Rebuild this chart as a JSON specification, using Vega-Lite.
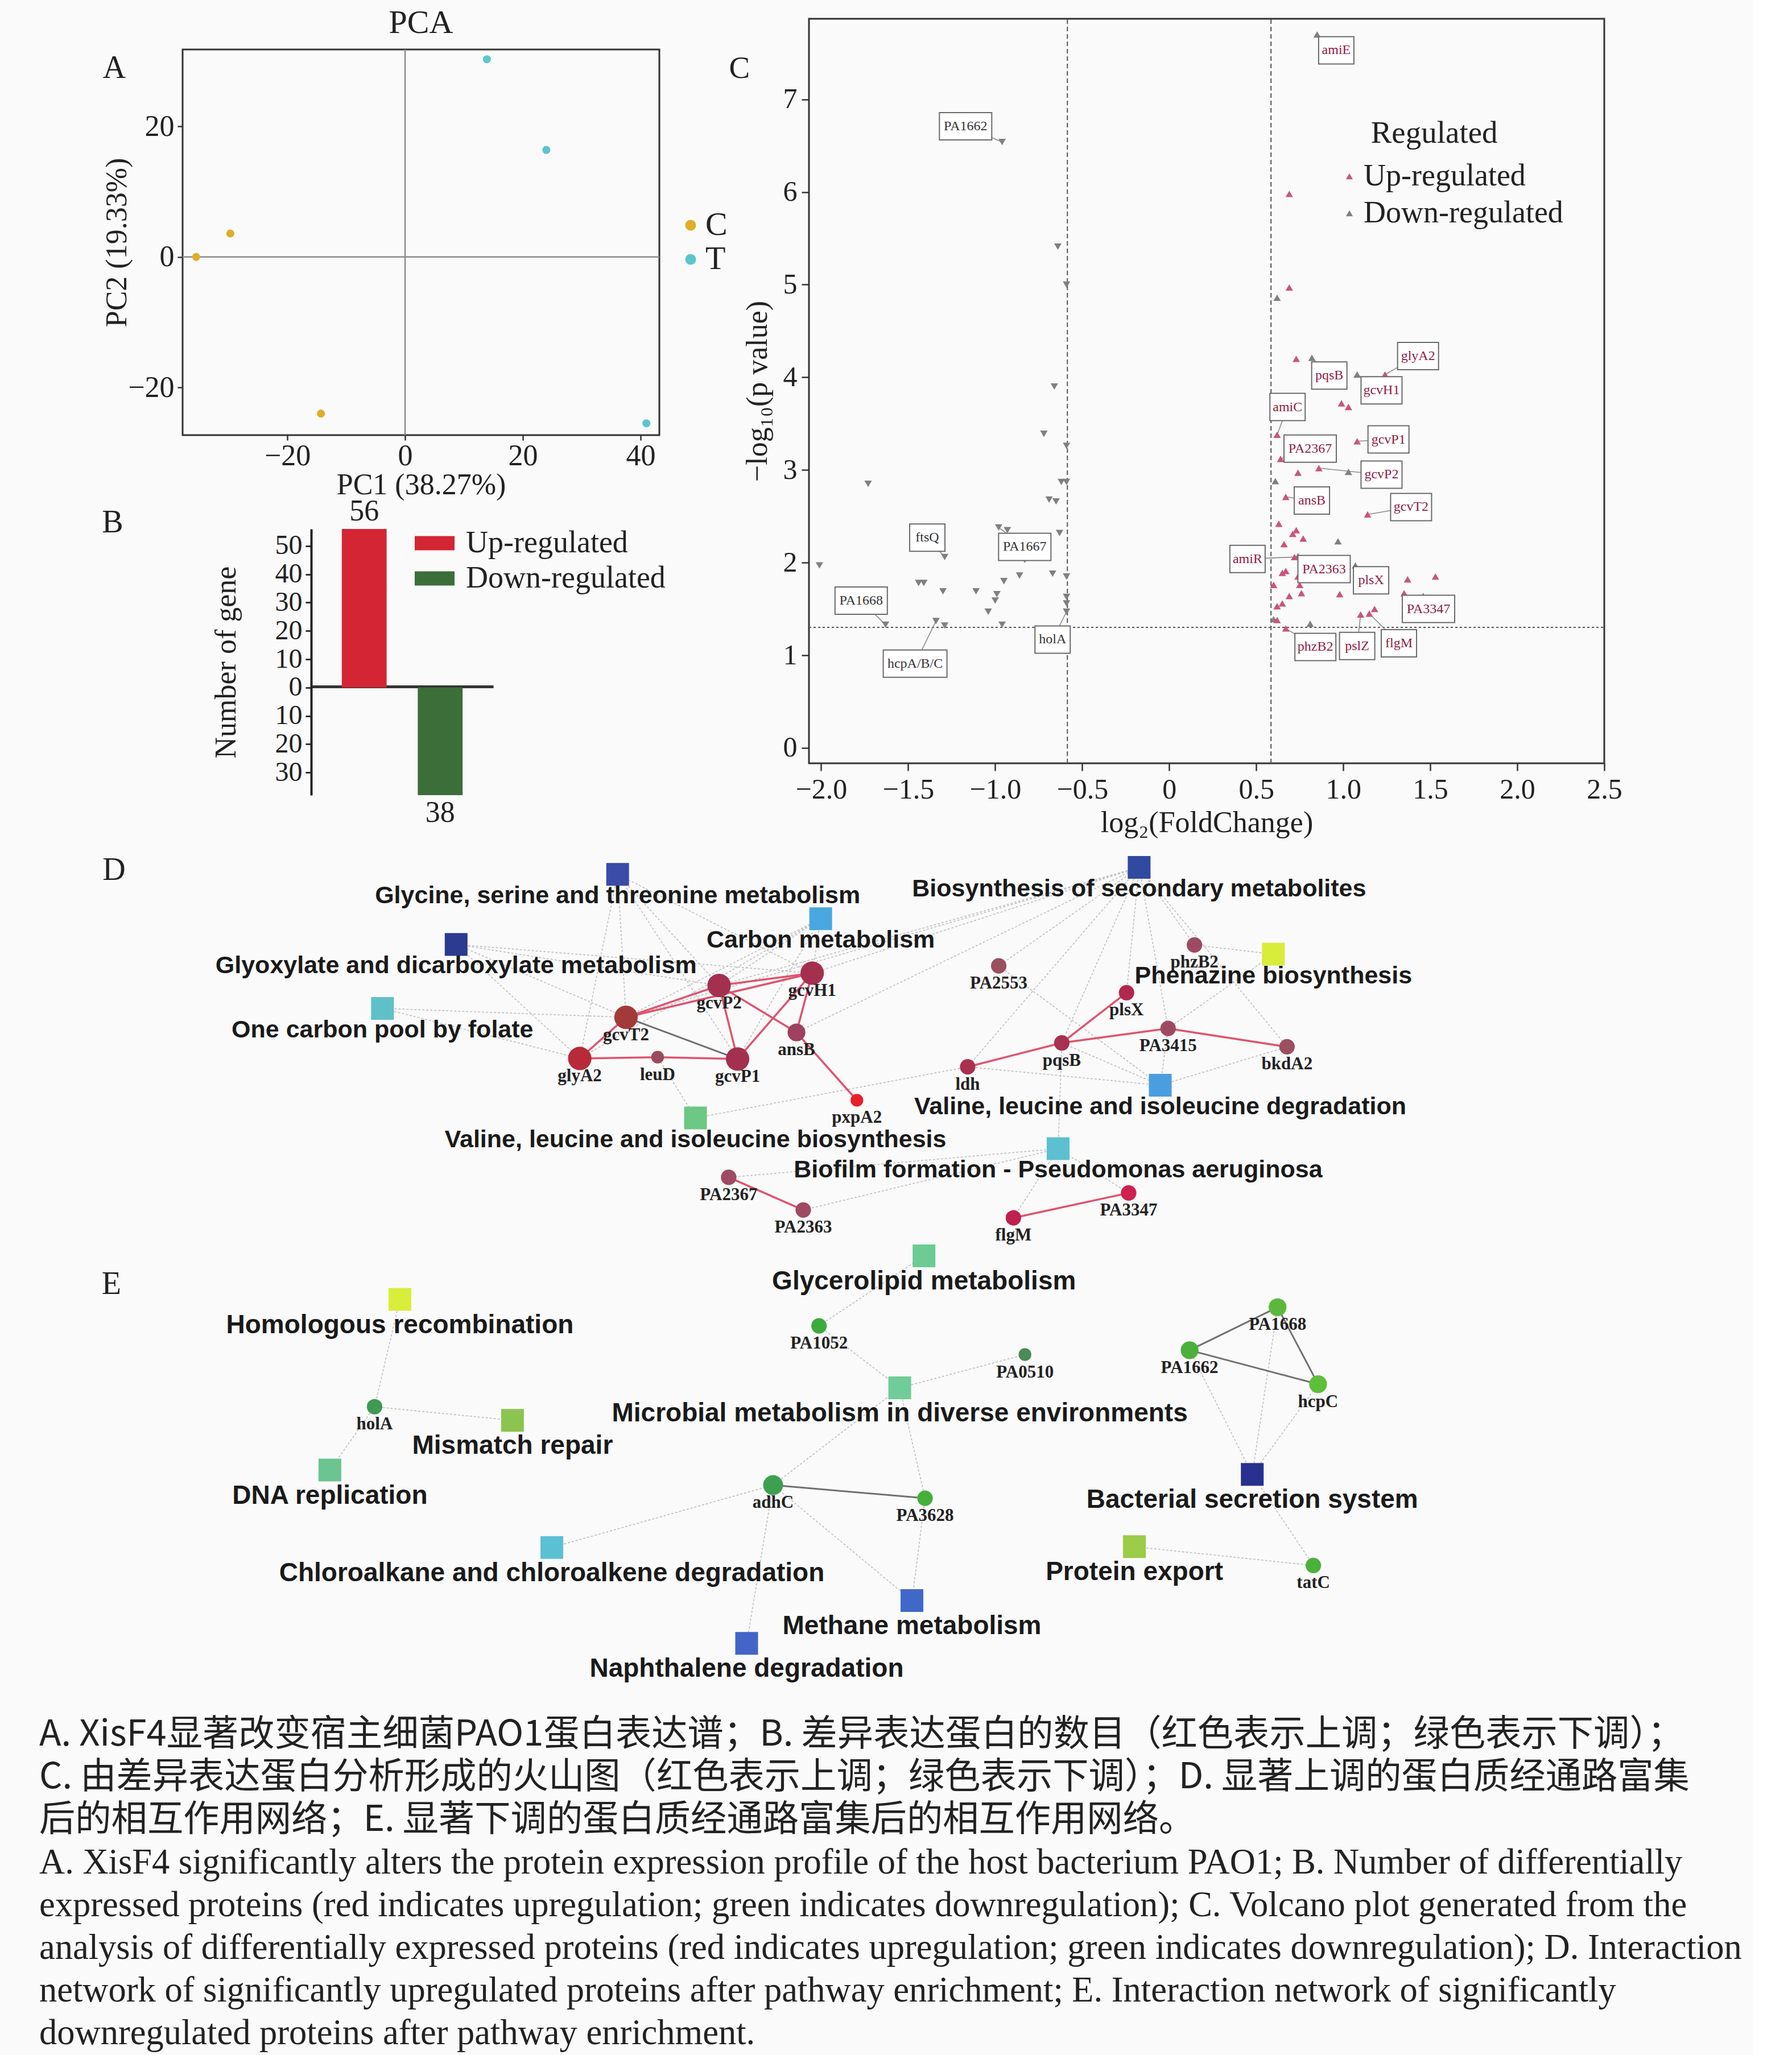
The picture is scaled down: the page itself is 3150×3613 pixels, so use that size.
{
  "$schema": "https://vega.github.io/schema/vega-lite/v6.json",
  "background": "#FAFAFA",
  "padding": {"left": 69, "top": 0, "right": 0, "bottom": 0},
  "autosize": {"type": "pad"},
  "config": {
    "view": {"stroke": null},
    "font": "Liberation Serif",
    "axis": {"labelFont": "Liberation Serif", "titleFont": "Liberation Serif", "titleFontWeight": "normal", "labelColor": "#222", "titleColor": "#222", "tickColor": "#333", "domainColor": "#222", "grid": false},
    "legend": {"labelFont": "Liberation Serif", "titleFont": "Liberation Serif", "titleFontWeight": "normal", "labelColor": "#222", "titleColor": "#222", "padding": 0, "labelLimit": 800, "titleLimit": 800},
    "title": {"font": "Liberation Serif", "fontWeight": "normal", "color": "#222"}
  },
  "bounds": "flush",
  "spacing": 0,
  "resolve": {"scale": {"color": "independent", "size": "independent", "shape": "independent"}, "legend": {"color": "independent", "size": "independent", "shape": "independent"}},
  "vconcat": [
    {
      "width": 3012, "height": 1398,
      "resolve": {"scale": {"x": "independent", "y": "independent", "color": "independent", "shape": "independent"}, "axis": {"x": "independent", "y": "independent"}, "legend": {"color": "independent", "shape": "independent"}},
      "layer": [
        {
          "layer": [
            {"data": {"values": [{}]}, "mark": {"type": "rect", "fillOpacity": 0, "stroke": "#333", "strokeWidth": 3},
             "encoding": {"x": {"datum": -37.8, "type": "quantitative", "scale": {"domain": [-37.8, 43.2], "range": [252, 1090], "nice": false, "zero": false}}, "x2": {"datum": 43.2},
               "y": {"datum": -27.3, "type": "quantitative", "scale": {"domain": [-27.3, 31.8], "range": [765, 87], "nice": false, "zero": false}}, "y2": {"datum": 31.8}}},
            {"data": {"values": [{}]}, "mark": {"type": "rule", "color": "#8A8A8A", "strokeWidth": 2.5},
             "encoding": {"x": {"datum": 0, "type": "quantitative", "scale": {"domain": [-37.8, 43.2], "range": [252, 1090], "nice": false, "zero": false}},
               "y": {"datum": -27.3, "type": "quantitative", "scale": {"domain": [-27.3, 31.8], "range": [765, 87], "nice": false, "zero": false}}, "y2": {"datum": 31.8}}},
            {"data": {"values": [{}]}, "mark": {"type": "rule", "color": "#8A8A8A", "strokeWidth": 2.5},
             "encoding": {"y": {"datum": 0, "type": "quantitative", "scale": {"domain": [-27.3, 31.8], "range": [765, 87], "nice": false, "zero": false}},
               "x": {"datum": -37.8, "type": "quantitative", "scale": {"domain": [-37.8, 43.2], "range": [252, 1090], "nice": false, "zero": false}}, "x2": {"datum": 43.2}}},
            {"data": {"name": "pca"}, "mark": {"type": "circle", "size": 200, "opacity": 1},
             "encoding": {
               "x": {"field": "pc1", "type": "quantitative", "scale": {"domain": [-37.8, 43.2], "range": [252, 1090], "nice": false, "zero": false},
                 "axis": {"orient": "bottom", "offset": -633, "title": "PC1 (38.27%)", "values": [-20, 0, 20, 40], "domain": false, "tickSize": 9, "tickWidth": 2.5, "labelFontSize": 52, "titleFontSize": 52, "labelPadding": 2, "titlePadding": 0, "labelFlush": false}},
               "y": {"field": "pc2", "type": "quantitative", "scale": {"domain": [-27.3, 31.8], "range": [765, 87], "nice": false, "zero": false},
                 "axis": {"orient": "left", "offset": -252, "title": "PC2 (19.33%)", "values": [-20, 0, 20], "domain": false, "tickSize": 9, "tickWidth": 2.5, "labelFontSize": 52, "titleFontSize": 52, "labelPadding": 6, "titlePadding": -8}},
               "color": {"field": "group", "type": "nominal", "scale": {"domain": ["C", "T"], "range": ["#E0AE2C", "#5CC6CC"]},
                 "legend": {"title": null, "orient": "none", "legendX": 1116, "legendY": 367, "labelFontSize": 58, "symbolType": "circle", "symbolSize": 360, "rowPadding": 2, "labelOffset": -3}}
             }},
            {"data": {"values": [{"t": "A", "px": -49.4, "py": 28.9}, {"t": "B", "px": -49.7, "py": -40.7}]}, "mark": {"type": "text", "fontSize": 56, "color": "#222", "baseline": "middle"},
             "encoding": {"x": {"field": "px", "type": "quantitative", "scale": {"domain": [-37.8, 43.2], "range": [252, 1090], "nice": false, "zero": false}},
               "y": {"field": "py", "type": "quantitative", "scale": {"domain": [-27.3, 31.8], "range": [765, 87], "nice": false, "zero": false}},
               "text": {"field": "t"}}},
            {"data": {"values": [{}]}, "mark": {"type": "text", "fontSize": 58, "color": "#222", "baseline": "middle"},
             "encoding": {"x": {"datum": 2.7, "type": "quantitative", "scale": {"domain": [-37.8, 43.2], "range": [252, 1090], "nice": false, "zero": false}},
               "y": {"datum": 35.8, "type": "quantitative", "scale": {"domain": [-27.3, 31.8], "range": [765, 87], "nice": false, "zero": false}},
               "text": {"value": "PCA"}}}
          ]
        },
        {
          "data": {"name": "bars"},
          "layer": [
            {"mark": {"type": "bar"},
             "encoding": {
               "x": {"field": "type", "type": "nominal", "scale": {"domain": ["Up-regulated", "Down-regulated"], "range": [478, 798], "paddingInner": 0.41, "paddingOuter": 0.403},
                 "axis": {"orient": "bottom", "offset": -191, "domain": true, "domainWidth": 5, "domainColor": "#333", "ticks": false, "labels": false, "title": null}},
               "y": {"field": "v", "type": "quantitative", "scale": {"domain": [-38, 56], "range": [1398, 930], "nice": false, "zero": false},
                 "axis": {"orient": "left", "offset": -478, "title": "Number of gene", "values": [-30, -20, -10, 0, 10, 20, 30, 40, 50], "labelExpr": "abs(datum.value)", "domain": true, "domainWidth": 4, "tickSize": 10, "tickWidth": 3, "labelFontSize": 48, "titleFontSize": 52, "labelPadding": 6, "titlePadding": 59}},
               "color": {"field": "type", "type": "nominal", "scale": {"domain": ["Up-regulated", "Down-regulated"], "range": ["#D42534", "#3B6E38"]},
                 "legend": {"title": null, "orient": "none", "legendX": 660, "legendY": 920, "labelFontSize": 54, "symbolType": "M-1,-0.36L1,-0.36L1,0.36L-1,0.36Z", "symbolSize": 4900, "symbolStrokeWidth": 0, "rowPadding": 0, "labelOffset": 20}}
             }},
            {"transform": [{"filter": "datum.v > 0"}], "mark": {"type": "text", "baseline": "bottom", "dy": -4, "fontSize": 52, "color": "#222"},
             "encoding": {
               "x": {"field": "type", "type": "nominal", "scale": {"domain": ["Up-regulated", "Down-regulated"], "range": [478, 798], "paddingInner": 0.41, "paddingOuter": 0.403}},
               "y": {"field": "v", "type": "quantitative", "scale": {"domain": [-38, 56], "range": [1398, 930], "nice": false, "zero": false}},
               "text": {"field": "count"}}},
            {"transform": [{"filter": "datum.v < 0"}], "mark": {"type": "text", "baseline": "top", "dy": 6, "fontSize": 52, "color": "#222"},
             "encoding": {
               "x": {"field": "type", "type": "nominal", "scale": {"domain": ["Up-regulated", "Down-regulated"], "range": [478, 798], "paddingInner": 0.41, "paddingOuter": 0.403}},
               "y": {"field": "v", "type": "quantitative", "scale": {"domain": [-38, 56], "range": [1398, 930], "nice": false, "zero": false}},
               "text": {"field": "count"}}}
          ]
        },
        {
          "layer": [
            {"data": {"values": [{}]}, "mark": {"type": "rect", "fillOpacity": 0, "stroke": "#333", "strokeWidth": 3},
             "encoding": {"x": {"datum": -2.07, "type": "quantitative", "scale": {"domain": [-2.07, 2.5], "range": [1353, 2751], "nice": false, "zero": false}}, "x2": {"datum": 2.5},
               "y": {"datum": -0.166, "type": "quantitative", "scale": {"domain": [-0.166, 7.87], "range": [1342, 33], "nice": false, "zero": false}}, "y2": {"datum": 7.87}}},
            {"data": {"values": [{"v": -0.585}, {"v": 0.585}]}, "mark": {"type": "rule", "strokeDash": [8, 5], "color": "#555", "strokeWidth": 2},
             "encoding": {"x": {"field": "v", "type": "quantitative", "scale": {"domain": [-2.07, 2.5], "range": [1353, 2751], "nice": false, "zero": false}},
               "y": {"datum": -0.166, "type": "quantitative", "scale": {"domain": [-0.166, 7.87], "range": [1342, 33], "nice": false, "zero": false}}, "y2": {"datum": 7.87}}},
            {"data": {"values": [{}]}, "mark": {"type": "rule", "strokeDash": [4, 4], "color": "#555", "strokeWidth": 2},
             "encoding": {"y": {"datum": 1.301, "type": "quantitative", "scale": {"domain": [-0.166, 7.87], "range": [1342, 33], "nice": false, "zero": false}},
               "x": {"datum": -2.07, "type": "quantitative", "scale": {"domain": [-2.07, 2.5], "range": [1353, 2751], "nice": false, "zero": false}}, "x2": {"datum": 2.5}}},
            {"data": {"name": "vlab"}, "mark": {"type": "rule", "color": "#8C8C8C", "strokeWidth": 1.6},
             "encoding": {
               "x": {"field": "x", "type": "quantitative", "scale": {"domain": [-2.07, 2.5], "range": [1353, 2751], "nice": false, "zero": false}},
               "y": {"field": "y", "type": "quantitative", "scale": {"domain": [-0.166, 7.87], "range": [1342, 33], "nice": false, "zero": false}},
               "x2": {"field": "px"}, "y2": {"field": "py"}
             }},
            {"data": {"name": "volcano"}, "mark": {"type": "point", "filled": true, "size": 170, "opacity": 1},
             "encoding": {
               "x": {"field": "lfc", "type": "quantitative", "scale": {"domain": [-2.07, 2.5], "range": [1353, 2751], "nice": false, "zero": false},
                 "axis": {"orient": "bottom", "offset": -56, "title": "log₂(FoldChange)", "values": [-2, -1.5, -1, -0.5, 0, 0.5, 1, 1.5, 2, 2.5], "labelExpr": "datum.value == 0 ? '0' : format(datum.value, '.1f')", "domain": false, "tickSize": 13, "tickWidth": 2.5, "labelFontSize": 50, "titleFontSize": 52, "labelPadding": 8, "titlePadding": 8, "labelFlush": false}},
               "y": {"field": "p", "type": "quantitative", "scale": {"domain": [-0.166, 7.87], "range": [1342, 33], "nice": false, "zero": false},
                 "axis": {"orient": "left", "offset": -1353, "title": "−log₁₀(p value)", "values": [0, 1, 2, 3, 4, 5, 6, 7], "format": "d", "domain": false, "tickSize": 13, "tickWidth": 2.5, "labelFontSize": 50, "titleFontSize": 52, "labelPadding": 8, "titlePadding": 18}},
               "shape": {"condition": {"test": "datum.lfc > 0", "value": "triangle-up"}, "value": "triangle-down"},
               "color": {"field": "reg", "type": "nominal", "scale": {"domain": ["Up-regulated", "Down-regulated"], "range": ["#C9557D", "#808080"]},
                 "legend": {"title": null, "orient": "none", "legendX": 2276, "legendY": 283, "labelFontSize": 54, "symbolType": "triangle-up", "symbolSize": 150, "rowPadding": 11, "labelOffset": -2}}
             }},
            {"data": {"name": "vlab"}, "mark": {"type": "point", "filled": false, "fill": "#FFFFFF", "fillOpacity": 1, "stroke": "#6A6A6A", "strokeWidth": 2, "size": 10000, "opacity": 1},
             "encoding": {
               "x": {"field": "x", "type": "quantitative", "scale": {"domain": [-2.07, 2.5], "range": [1353, 2751], "nice": false, "zero": false}},
               "y": {"field": "y", "type": "quantitative", "scale": {"domain": [-0.166, 7.87], "range": [1342, 33], "nice": false, "zero": false}},
               "shape": {"field": "n", "type": "nominal", "scale": {"domain": ["4", "5", "6", "8"], "range": ["M-0.62,-0.48L0.62,-0.48L0.62,0.48L-0.62,0.48Z", "M-0.72,-0.48L0.72,-0.48L0.72,0.48L-0.72,0.48Z", "M-0.92,-0.48L0.92,-0.48L0.92,0.48L-0.92,0.48Z", "M-1.12,-0.48L1.12,-0.48L1.12,0.48L-1.12,0.48Z"]}, "legend": null}
             }},
            {"data": {"name": "vlab"}, "mark": {"type": "text", "fontSize": 24, "baseline": "middle"},
             "encoding": {
               "x": {"field": "x", "type": "quantitative", "scale": {"domain": [-2.07, 2.5], "range": [1353, 2751], "nice": false, "zero": false}},
               "y": {"field": "y", "type": "quantitative", "scale": {"domain": [-0.166, 7.87], "range": [1342, 33], "nice": false, "zero": false}},
               "text": {"field": "g"},
               "color": {"condition": {"test": "datum.x > 0", "value": "#8E1C44"}, "value": "#333333"}
             }},
            {"data": {"values": [{"t": "C", "px": -2.469, "py": 7.336, "fs": "l"}, {"t": "Regulated", "px": 1.523, "py": 6.636, "fs": "t"}]}, "mark": {"type": "text", "fontSize": 55, "color": "#222", "baseline": "middle"},
             "encoding": {"x": {"field": "px", "type": "quantitative", "scale": {"domain": [-2.07, 2.5], "range": [1353, 2751], "nice": false, "zero": false}},
               "y": {"field": "py", "type": "quantitative", "scale": {"domain": [-0.166, 7.87], "range": [1342, 33], "nice": false, "zero": false}},
               "text": {"field": "t"}}}
          ]
        }
      ]
    },
    {
      "width": 3012, "height": 1614,
      "layer": [
        {"data": {"name": "edges"},
         "transform": [{"filter": "datum.k == 'p'"},
           {"lookup": "s", "from": {"data": {"name": "nodes"}, "key": "id", "fields": ["x", "y"]}, "as": ["sx", "sy"]},
           {"lookup": "t", "from": {"data": {"name": "nodes"}, "key": "id", "fields": ["x", "y"]}, "as": ["tx", "ty"]}],
         "mark": {"type": "rule", "color": "#C4C4C4", "strokeWidth": 1.8, "strokeDash": [4, 3]},
         "encoding": {
           "x": {"field": "sx", "type": "quantitative", "scale": {"domain": [30, 1337.07], "nice": false, "zero": false}, "axis": null},
           "y": {"field": "sy", "type": "quantitative", "scale": {"domain": [606.7, 1307.1], "nice": false, "zero": false, "reverse": true}, "axis": null},
           "x2": {"field": "tx"}, "y2": {"field": "ty"}
         }},
        {"data": {"name": "edges"},
         "transform": [{"filter": "datum.k == 'd'"},
           {"lookup": "s", "from": {"data": {"name": "nodes"}, "key": "id", "fields": ["x", "y"]}, "as": ["sx", "sy"]},
           {"lookup": "t", "from": {"data": {"name": "nodes"}, "key": "id", "fields": ["x", "y"]}, "as": ["tx", "ty"]}],
         "mark": {"type": "rule", "color": "#707070", "strokeWidth": 3},
         "encoding": {
           "x": {"field": "sx", "type": "quantitative", "scale": {"domain": [30, 1337.07], "nice": false, "zero": false}, "axis": null},
           "y": {"field": "sy", "type": "quantitative", "scale": {"domain": [606.7, 1307.1], "nice": false, "zero": false, "reverse": true}, "axis": null},
           "x2": {"field": "tx"}, "y2": {"field": "ty"}
         }},
        {"data": {"name": "edges"},
         "transform": [{"filter": "datum.k == 'r'"},
           {"lookup": "s", "from": {"data": {"name": "nodes"}, "key": "id", "fields": ["x", "y"]}, "as": ["sx", "sy"]},
           {"lookup": "t", "from": {"data": {"name": "nodes"}, "key": "id", "fields": ["x", "y"]}, "as": ["tx", "ty"]}],
         "mark": {"type": "rule", "color": "#E0526F", "strokeWidth": 3.5},
         "encoding": {
           "x": {"field": "sx", "type": "quantitative", "scale": {"domain": [30, 1337.07], "nice": false, "zero": false}, "axis": null},
           "y": {"field": "sy", "type": "quantitative", "scale": {"domain": [606.7, 1307.1], "nice": false, "zero": false, "reverse": true}, "axis": null},
           "x2": {"field": "tx"}, "y2": {"field": "ty"}
         }},
        {"data": {"name": "nodes"},
         "transform": [{"filter": "datum.kind == 'path'"}],
         "mark": {"type": "point", "shape": "square", "filled": true, "size": 1600, "opacity": 1},
         "encoding": {
           "x": {"field": "x", "type": "quantitative", "scale": {"domain": [30, 1337.07], "nice": false, "zero": false}, "axis": null},
           "y": {"field": "y", "type": "quantitative", "scale": {"domain": [606.7, 1307.1], "nice": false, "zero": false, "reverse": true}, "axis": null},
           "color": {"field": "id", "type": "nominal", "legend": null,
             "scale": {"domain": ["gly","bio","car","glx","phz","one","vld","vlb","bfm","hom","mis","dna","gll","mic","chl","nap","met","bss","pex","gcvP2","gcvH1","gcvT2","ansB","glyA2","leuD","gcvP1","pxpA2","PA2367","PA2363","PA2553","phzB2","plsX","PA3415","pqsB","bkdA2","ldh","PA3347","flgM","holA","PA1052","PA0510","adhC","PA3628","PA1668","PA1662","hcpC","tatC"],
               "range": ["#3B4BA8","#304AA0","#4AA8E0","#2C3A90","#D8EC3A","#60C0C8","#4A9EE0","#6CC884","#5CC0D0","#D8EE3A","#8CC450","#6CC490","#6CCC94","#70CC98","#5CC0D4","#4464C8","#4068C8","#283090","#9CCC48","#A3304F","#A3304F","#A33A3A","#9E4060","#B82A3A","#9A4A5E","#A3304F","#E8202A","#9E4A62","#9E4A62","#9A5060","#9E4A62","#B02850","#9E4A62","#A83050","#9A5060","#AA3050","#D02050","#C02050","#3E9A55","#3DAA3D","#4A8A55","#3DA050","#44B03A","#5CB83C","#4CB03C","#5EBF3A","#4CB03C"]}}
         }},
        {"data": {"name": "nodes"},
         "transform": [{"filter": "datum.kind == 'gene'"}],
         "mark": {"type": "circle", "opacity": 1},
         "encoding": {
           "x": {"field": "x", "type": "quantitative", "scale": {"domain": [30, 1337.07], "nice": false, "zero": false}, "axis": null},
           "y": {"field": "y", "type": "quantitative", "scale": {"domain": [606.7, 1307.1], "nice": false, "zero": false, "reverse": true}, "axis": null},
           "size": {"field": "deg", "type": "quantitative", "scale": {"domain": [1, 6], "range": [500, 1700]}, "legend": null},
           "color": {"field": "id", "type": "nominal", "legend": null,
             "scale": {"domain": ["gly","bio","car","glx","phz","one","vld","vlb","bfm","hom","mis","dna","gll","mic","chl","nap","met","bss","pex","gcvP2","gcvH1","gcvT2","ansB","glyA2","leuD","gcvP1","pxpA2","PA2367","PA2363","PA2553","phzB2","plsX","PA3415","pqsB","bkdA2","ldh","PA3347","flgM","holA","PA1052","PA0510","adhC","PA3628","PA1668","PA1662","hcpC","tatC"],
               "range": ["#3B4BA8","#304AA0","#4AA8E0","#2C3A90","#D8EC3A","#60C0C8","#4A9EE0","#6CC884","#5CC0D0","#D8EE3A","#8CC450","#6CC490","#6CCC94","#70CC98","#5CC0D4","#4464C8","#4068C8","#283090","#9CCC48","#A3304F","#A3304F","#A33A3A","#9E4060","#B82A3A","#9A4A5E","#A3304F","#E8202A","#9E4A62","#9E4A62","#9A5060","#9E4A62","#B02850","#9E4A62","#A83050","#9A5060","#AA3050","#D02050","#C02050","#3E9A55","#3DAA3D","#4A8A55","#3DA050","#44B03A","#5CB83C","#4CB03C","#5EBF3A","#4CB03C"]}}
         }},
        {"data": {"name": "nodes"},
         "transform": [{"filter": "datum.kind == 'gene'"}],
         "mark": {"type": "text", "font": "Liberation Serif", "fontWeight": "bold", "fontSize": 31, "dy": 31, "baseline": "middle", "color": "#222"},
         "encoding": {
           "x": {"field": "x", "type": "quantitative", "scale": {"domain": [30, 1337.07], "nice": false, "zero": false}, "axis": null},
           "y": {"field": "y", "type": "quantitative", "scale": {"domain": [606.7, 1307.1], "nice": false, "zero": false, "reverse": true}, "axis": null},
           "text": {"field": "label"}
         }},
        {"data": {"name": "nodes"},
         "transform": [{"filter": "datum.kind == 'path' && datum.net == 'D'"}],
         "mark": {"type": "text", "font": "Liberation Sans", "fontWeight": "bold", "fontSize": 43, "dy": 38, "baseline": "middle", "color": "#1A1A1A"},
         "encoding": {
           "x": {"field": "x", "type": "quantitative", "scale": {"domain": [30, 1337.07], "nice": false, "zero": false}, "axis": null},
           "y": {"field": "y", "type": "quantitative", "scale": {"domain": [606.7, 1307.1], "nice": false, "zero": false, "reverse": true}, "axis": null},
           "text": {"field": "label"}
         }},
        {"data": {"name": "nodes"},
         "transform": [{"filter": "datum.kind == 'path' && datum.net == 'E'"}],
         "mark": {"type": "text", "font": "Liberation Sans", "fontWeight": "bold", "fontSize": 46, "dy": 45, "baseline": "middle", "color": "#1A1A1A"},
         "encoding": {
           "x": {"field": "x", "type": "quantitative", "scale": {"domain": [30, 1337.07], "nice": false, "zero": false}, "axis": null},
           "y": {"field": "y", "type": "quantitative", "scale": {"domain": [606.7, 1307.1], "nice": false, "zero": false, "reverse": true}, "axis": null},
           "text": {"field": "label"}
         }},
        {"data": {"values": [{"letter": "D", "x": 87, "y": 664}, {"letter": "E", "x": 85, "y": 980}]},
         "mark": {"type": "text", "fontSize": 56, "color": "#222", "baseline": "middle"},
         "encoding": {
           "x": {"field": "x", "type": "quantitative", "scale": {"domain": [30, 1337.07], "nice": false, "zero": false}, "axis": null},
           "y": {"field": "y", "type": "quantitative", "scale": {"domain": [606.7, 1307.1], "nice": false, "zero": false, "reverse": true}, "axis": null},
           "text": {"field": "letter"}
         }}
      ]
    },
    {
      "width": 3012, "height": 601,
      "data": {"name": "caption"},
      "layer": [
        {"transform": [{"filter": "datum.lang == 'zh'"}],
         "mark": {"type": "text", "align": "left", "baseline": "middle", "font": "Noto Sans CJK SC", "fontSize": 63.3, "color": "#222"},
         "encoding": {
           "x": {"datum": 0, "type": "quantitative", "scale": {"domain": [0, 1]}, "axis": null},
           "y": {"field": "line", "type": "ordinal", "axis": null, "scale": {"type": "point", "padding": 0.5}},
           "text": {"field": "t"}
         }},
        {"transform": [{"filter": "datum.lang == 'en'"}],
         "mark": {"type": "text", "align": "left", "baseline": "middle", "font": "Liberation Serif", "fontSize": 62.5, "color": "#222"},
         "encoding": {
           "x": {"datum": 0, "type": "quantitative", "scale": {"domain": [0, 1]}, "axis": null},
           "y": {"field": "line", "type": "ordinal", "axis": null, "scale": {"type": "point", "padding": 0.5}},
           "text": {"field": "t"}
         }}
      ]
    }
  ],
  "datasets": {
    "pca": [
      {"pc1": -35.5, "pc2": 0.0, "group": "C"},
      {"pc1": -29.7, "pc2": 3.6, "group": "C"},
      {"pc1": -14.3, "pc2": -24.0, "group": "C"},
      {"pc1": 13.9, "pc2": 30.3, "group": "T"},
      {"pc1": 24.0, "pc2": 16.4, "group": "T"},
      {"pc1": 41.0, "pc2": -25.5, "group": "T"}
    ],
    "bars": [
      {"type": "Up-regulated", "v": 56, "count": 56},
      {"type": "Down-regulated", "v": -38, "count": 38}
    ],
    "volcano": [
      {"lfc": -0.96, "p": 6.54, "reg": "Down-regulated"},
      {"lfc": -0.64, "p": 5.41, "reg": "Down-regulated"},
      {"lfc": -0.59, "p": 5.00, "reg": "Down-regulated"},
      {"lfc": -0.66, "p": 3.90, "reg": "Down-regulated"},
      {"lfc": -0.72, "p": 3.39, "reg": "Down-regulated"},
      {"lfc": -0.59, "p": 3.26, "reg": "Down-regulated"},
      {"lfc": -0.62, "p": 2.87, "reg": "Down-regulated"},
      {"lfc": -0.59, "p": 2.87, "reg": "Down-regulated"},
      {"lfc": -1.73, "p": 2.85, "reg": "Down-regulated"},
      {"lfc": -0.69, "p": 2.68, "reg": "Down-regulated"},
      {"lfc": -0.65, "p": 2.66, "reg": "Down-regulated"},
      {"lfc": -0.63, "p": 2.32, "reg": "Down-regulated"},
      {"lfc": -0.98, "p": 2.38, "reg": "Down-regulated"},
      {"lfc": -0.93, "p": 2.35, "reg": "Down-regulated"},
      {"lfc": -1.29, "p": 2.06, "reg": "Down-regulated"},
      {"lfc": -0.83, "p": 2.03, "reg": "Down-regulated"},
      {"lfc": -2.01, "p": 1.97, "reg": "Down-regulated"},
      {"lfc": -0.59, "p": 1.85, "reg": "Down-regulated"},
      {"lfc": -0.67, "p": 1.88, "reg": "Down-regulated"},
      {"lfc": -0.86, "p": 1.86, "reg": "Down-regulated"},
      {"lfc": -0.95, "p": 1.80, "reg": "Down-regulated"},
      {"lfc": -1.44, "p": 1.78, "reg": "Down-regulated"},
      {"lfc": -1.41, "p": 1.78, "reg": "Down-regulated"},
      {"lfc": -1.30, "p": 1.69, "reg": "Down-regulated"},
      {"lfc": -1.11, "p": 1.69, "reg": "Down-regulated"},
      {"lfc": -0.99, "p": 1.66, "reg": "Down-regulated"},
      {"lfc": -1.00, "p": 1.59, "reg": "Down-regulated"},
      {"lfc": -0.59, "p": 1.63, "reg": "Down-regulated"},
      {"lfc": -0.59, "p": 1.56, "reg": "Down-regulated"},
      {"lfc": -1.04, "p": 1.47, "reg": "Down-regulated"},
      {"lfc": -0.59, "p": 1.47, "reg": "Down-regulated"},
      {"lfc": -1.63, "p": 1.33, "reg": "Down-regulated"},
      {"lfc": -1.34, "p": 1.37, "reg": "Down-regulated"},
      {"lfc": -1.29, "p": 1.32, "reg": "Down-regulated"},
      {"lfc": -0.96, "p": 1.33, "reg": "Down-regulated"},
      {"lfc": 0.85, "p": 7.70, "reg": "Down-regulated"},
      {"lfc": 0.62, "p": 4.86, "reg": "Down-regulated"},
      {"lfc": 0.82, "p": 4.21, "reg": "Down-regulated"},
      {"lfc": 1.08, "p": 4.03, "reg": "Down-regulated"},
      {"lfc": 1.03, "p": 2.98, "reg": "Down-regulated"},
      {"lfc": 0.61, "p": 2.88, "reg": "Down-regulated"},
      {"lfc": 0.97, "p": 2.23, "reg": "Down-regulated"},
      {"lfc": 0.74, "p": 2.07, "reg": "Down-regulated"},
      {"lfc": 1.07, "p": 1.97, "reg": "Down-regulated"},
      {"lfc": 1.46, "p": 1.64, "reg": "Down-regulated"},
      {"lfc": 0.60, "p": 1.39, "reg": "Down-regulated"},
      {"lfc": 0.81, "p": 1.34, "reg": "Down-regulated"},
      {"lfc": 0.69, "p": 5.98, "reg": "Up-regulated"},
      {"lfc": 0.69, "p": 4.97, "reg": "Up-regulated"},
      {"lfc": 0.73, "p": 4.20, "reg": "Up-regulated"},
      {"lfc": 1.24, "p": 4.03, "reg": "Up-regulated"},
      {"lfc": 0.99, "p": 3.72, "reg": "Up-regulated"},
      {"lfc": 1.03, "p": 3.68, "reg": "Up-regulated"},
      {"lfc": 0.62, "p": 3.38, "reg": "Up-regulated"},
      {"lfc": 0.64, "p": 3.12, "reg": "Up-regulated"},
      {"lfc": 1.08, "p": 3.31, "reg": "Up-regulated"},
      {"lfc": 0.86, "p": 3.02, "reg": "Up-regulated"},
      {"lfc": 0.74, "p": 2.97, "reg": "Up-regulated"},
      {"lfc": 0.67, "p": 2.71, "reg": "Up-regulated"},
      {"lfc": 1.14, "p": 2.52, "reg": "Up-regulated"},
      {"lfc": 0.63, "p": 2.42, "reg": "Up-regulated"},
      {"lfc": 0.73, "p": 2.35, "reg": "Up-regulated"},
      {"lfc": 0.71, "p": 2.31, "reg": "Up-regulated"},
      {"lfc": 0.66, "p": 2.20, "reg": "Up-regulated"},
      {"lfc": 0.77, "p": 2.26, "reg": "Up-regulated"},
      {"lfc": 0.72, "p": 2.06, "reg": "Up-regulated"},
      {"lfc": 0.67, "p": 1.91, "reg": "Up-regulated"},
      {"lfc": 0.65, "p": 1.89, "reg": "Up-regulated"},
      {"lfc": 1.37, "p": 1.82, "reg": "Up-regulated"},
      {"lfc": 1.53, "p": 1.85, "reg": "Up-regulated"},
      {"lfc": 0.60, "p": 1.76, "reg": "Up-regulated"},
      {"lfc": 0.74, "p": 1.85, "reg": "Up-regulated"},
      {"lfc": 0.75, "p": 1.76, "reg": "Up-regulated"},
      {"lfc": 0.76, "p": 1.67, "reg": "Up-regulated"},
      {"lfc": 0.98, "p": 1.66, "reg": "Up-regulated"},
      {"lfc": 0.69, "p": 1.64, "reg": "Up-regulated"},
      {"lfc": 1.35, "p": 1.67, "reg": "Up-regulated"},
      {"lfc": 0.65, "p": 1.56, "reg": "Up-regulated"},
      {"lfc": 0.62, "p": 1.53, "reg": "Up-regulated"},
      {"lfc": 1.10, "p": 1.44, "reg": "Up-regulated"},
      {"lfc": 1.18, "p": 1.50, "reg": "Up-regulated"},
      {"lfc": 1.15, "p": 1.45, "reg": "Up-regulated"},
      {"lfc": 0.62, "p": 1.38, "reg": "Up-regulated"},
      {"lfc": 0.67, "p": 1.29, "reg": "Up-regulated"}
    ],
    "vlab": [
      {"g": "amiE", "x": 0.96, "y": 7.53, "n": "4", "px": 0.85, "py": 7.70},
      {"g": "PA1662", "x": -1.17, "y": 6.71, "n": "6", "px": -0.96, "py": 6.54},
      {"g": "pqsB", "x": 0.92, "y": 4.02, "n": "4", "px": 0.82, "py": 4.21},
      {"g": "glyA2", "x": 1.43, "y": 4.23, "n": "5", "px": 1.24, "py": 4.03},
      {"g": "gcvH1", "x": 1.22, "y": 3.86, "n": "5", "px": 1.08, "py": 4.03},
      {"g": "amiC", "x": 0.68, "y": 3.68, "n": "4", "px": 0.62, "py": 3.38},
      {"g": "gcvP1", "x": 1.26, "y": 3.33, "n": "5", "px": 1.08, "py": 3.31},
      {"g": "PA2367", "x": 0.81, "y": 3.23, "n": "6", "px": 0.64, "py": 3.12},
      {"g": "gcvP2", "x": 1.22, "y": 2.95, "n": "5", "px": 0.86, "py": 3.02},
      {"g": "ansB", "x": 0.82, "y": 2.67, "n": "4", "px": 0.67, "py": 2.71},
      {"g": "gcvT2", "x": 1.39, "y": 2.60, "n": "5", "px": 1.14, "py": 2.52},
      {"g": "ftsQ", "x": -1.39, "y": 2.27, "n": "4", "px": -1.29, "py": 2.06},
      {"g": "PA1667", "x": -0.83, "y": 2.17, "n": "6", "px": -0.98, "py": 2.38},
      {"g": "amiR", "x": 0.45, "y": 2.04, "n": "4", "px": 0.72, "py": 2.06},
      {"g": "PA2363", "x": 0.89, "y": 1.93, "n": "6", "px": 0.74, "py": 1.85},
      {"g": "plsX", "x": 1.16, "y": 1.81, "n": "4", "px": 1.07, "py": 1.97},
      {"g": "PA3347", "x": 1.49, "y": 1.50, "n": "6", "px": 1.35, "py": 1.67},
      {"g": "PA1668", "x": -1.77, "y": 1.59, "n": "6", "px": -1.63, "py": 1.33},
      {"g": "holA", "x": -0.67, "y": 1.17, "n": "4", "px": -0.59, "py": 1.47},
      {"g": "phzB2", "x": 0.84, "y": 1.09, "n": "5", "px": 0.67, "py": 1.29},
      {"g": "pslZ", "x": 1.08, "y": 1.10, "n": "4", "px": 1.10, "py": 1.44},
      {"g": "flgM", "x": 1.32, "y": 1.13, "n": "4", "px": 1.15, "py": 1.45},
      {"g": "hcpA/B/C", "x": -1.46, "y": 0.91, "n": "8", "px": -1.34, "py": 1.37}
    ],
    "nodes": [
      {"id": "gly", "label": "Glycine, serine and threonine metabolism", "kind": "path", "net": "D", "x": 471.2, "y": 667.1},
      {"id": "bio", "label": "Biosynthesis of secondary metabolites", "kind": "path", "net": "D", "x": 869.0, "y": 661.8},
      {"id": "car", "label": "Carbon metabolism", "kind": "path", "net": "D", "x": 626.1, "y": 701.0},
      {"id": "glx", "label": "Glyoxylate and dicarboxylate metabolism", "kind": "path", "net": "D", "x": 348.0, "y": 720.6},
      {"id": "phz", "label": "Phenazine biosynthesis", "kind": "path", "net": "D", "x": 971.4, "y": 728.0},
      {"id": "one", "label": "One carbon pool by folate", "kind": "path", "net": "D", "x": 291.8, "y": 769.4},
      {"id": "vld", "label": "Valine, leucine and isoleucine degradation", "kind": "path", "net": "D", "x": 885.1, "y": 828.0},
      {"id": "vlb", "label": "Valine, leucine and isoleucine biosynthesis", "kind": "path", "net": "D", "x": 530.6, "y": 853.0},
      {"id": "bfm", "label": "Biofilm formation - Pseudomonas aeruginosa", "kind": "path", "net": "D", "x": 807.2, "y": 876.4},
      {"id": "hom", "label": "Homologous recombination", "kind": "path", "net": "E", "x": 305.1, "y": 991.4},
      {"id": "mis", "label": "Mismatch repair", "kind": "path", "net": "E", "x": 391.0, "y": 1083.7},
      {"id": "dna", "label": "DNA replication", "kind": "path", "net": "E", "x": 251.7, "y": 1121.6},
      {"id": "gll", "label": "Glycerolipid metabolism", "kind": "path", "net": "E", "x": 704.9, "y": 958.2},
      {"id": "mic", "label": "Microbial metabolism in diverse environments", "kind": "path", "net": "E", "x": 686.4, "y": 1058.9},
      {"id": "chl", "label": "Chloroalkane and chloroalkene degradation", "kind": "path", "net": "E", "x": 421.0, "y": 1180.7},
      {"id": "nap", "label": "Naphthalene degradation", "kind": "path", "net": "E", "x": 569.6, "y": 1253.8},
      {"id": "met", "label": "Methane metabolism", "kind": "path", "net": "E", "x": 695.7, "y": 1221.2},
      {"id": "bss", "label": "Bacterial secretion system", "kind": "path", "net": "E", "x": 955.3, "y": 1124.9},
      {"id": "pex", "label": "Protein export", "kind": "path", "net": "E", "x": 865.4, "y": 1180.1},
      {"id": "gcvP2", "label": "gcvP2", "kind": "gene", "net": "D", "x": 548.6, "y": 751.9, "deg": 6},
      {"id": "gcvH1", "label": "gcvH1", "kind": "gene", "net": "D", "x": 619.6, "y": 742.5, "deg": 6},
      {"id": "gcvT2", "label": "gcvT2", "kind": "gene", "net": "D", "x": 477.6, "y": 776.2, "deg": 6},
      {"id": "ansB", "label": "ansB", "kind": "gene", "net": "D", "x": 607.6, "y": 787.7, "deg": 3},
      {"id": "glyA2", "label": "glyA2", "kind": "gene", "net": "D", "x": 442.3, "y": 807.6, "deg": 6},
      {"id": "leuD", "label": "leuD", "kind": "gene", "net": "D", "x": 501.7, "y": 806.6, "deg": 1},
      {"id": "gcvP1", "label": "gcvP1", "kind": "gene", "net": "D", "x": 562.7, "y": 808.0, "deg": 6},
      {"id": "pxpA2", "label": "pxpA2", "kind": "gene", "net": "D", "x": 653.7, "y": 839.5, "deg": 1},
      {"id": "PA2367", "label": "PA2367", "kind": "gene", "net": "D", "x": 555.9, "y": 898.3, "deg": 2},
      {"id": "PA2363", "label": "PA2363", "kind": "gene", "net": "D", "x": 612.8, "y": 923.2, "deg": 2},
      {"id": "PA2553", "label": "PA2553", "kind": "gene", "net": "D", "x": 761.9, "y": 736.9, "deg": 2},
      {"id": "phzB2", "label": "phzB2", "kind": "gene", "net": "D", "x": 911.2, "y": 721.0, "deg": 2},
      {"id": "plsX", "label": "plsX", "kind": "gene", "net": "D", "x": 859.4, "y": 757.4, "deg": 2},
      {"id": "PA3415", "label": "PA3415", "kind": "gene", "net": "D", "x": 891.1, "y": 784.7, "deg": 2},
      {"id": "pqsB", "label": "pqsB", "kind": "gene", "net": "D", "x": 810.0, "y": 795.7, "deg": 2},
      {"id": "bkdA2", "label": "bkdA2", "kind": "gene", "net": "D", "x": 981.8, "y": 798.7, "deg": 2},
      {"id": "ldh", "label": "ldh", "kind": "gene", "net": "D", "x": 738.2, "y": 814.0, "deg": 2},
      {"id": "PA3347", "label": "PA3347", "kind": "gene", "net": "D", "x": 861.0, "y": 910.2, "deg": 2},
      {"id": "flgM", "label": "flgM", "kind": "gene", "net": "D", "x": 773.1, "y": 929.2, "deg": 2},
      {"id": "holA", "label": "holA", "kind": "gene", "net": "E", "x": 285.8, "y": 1073.3, "deg": 2},
      {"id": "PA1052", "label": "PA1052", "kind": "gene", "net": "E", "x": 624.8, "y": 1011.6, "deg": 2},
      {"id": "PA0510", "label": "PA0510", "kind": "gene", "net": "E", "x": 781.9, "y": 1033.5, "deg": 1},
      {"id": "adhC", "label": "adhC", "kind": "gene", "net": "E", "x": 589.8, "y": 1133.1, "deg": 4},
      {"id": "PA3628", "label": "PA3628", "kind": "gene", "net": "E", "x": 705.7, "y": 1143.1, "deg": 2},
      {"id": "PA1668", "label": "PA1668", "kind": "gene", "net": "E", "x": 974.6, "y": 997.4, "deg": 3},
      {"id": "PA1662", "label": "PA1662", "kind": "gene", "net": "E", "x": 907.5, "y": 1030.2, "deg": 3},
      {"id": "hcpC", "label": "hcpC", "kind": "gene", "net": "E", "x": 1005.5, "y": 1056.1, "deg": 3},
      {"id": "tatC", "label": "tatC", "kind": "gene", "net": "E", "x": 1001.9, "y": 1194.4, "deg": 2}
    ],
    "edges": [
      {"s": "gcvT2", "t": "gcvP2", "k": "r"},
      {"s": "gcvT2", "t": "gcvH1", "k": "r"},
      {"s": "gcvP2", "t": "gcvH1", "k": "r"},
      {"s": "glyA2", "t": "gcvT2", "k": "r"},
      {"s": "glyA2", "t": "leuD", "k": "r"},
      {"s": "leuD", "t": "gcvP1", "k": "r"},
      {"s": "gcvP2", "t": "gcvP1", "k": "r"},
      {"s": "gcvH1", "t": "gcvP1", "k": "r"},
      {"s": "gcvH1", "t": "ansB", "k": "r"},
      {"s": "gcvP2", "t": "ansB", "k": "r"},
      {"s": "ansB", "t": "pxpA2", "k": "r"},
      {"s": "plsX", "t": "pqsB", "k": "r"},
      {"s": "ldh", "t": "pqsB", "k": "r"},
      {"s": "pqsB", "t": "PA3415", "k": "r"},
      {"s": "PA3415", "t": "bkdA2", "k": "r"},
      {"s": "PA2367", "t": "PA2363", "k": "r"},
      {"s": "flgM", "t": "PA3347", "k": "r"},
      {"s": "gcvT2", "t": "gcvP1", "k": "d"},
      {"s": "gly", "t": "glyA2", "k": "p"},
      {"s": "gly", "t": "gcvT2", "k": "p"},
      {"s": "gly", "t": "gcvP2", "k": "p"},
      {"s": "gly", "t": "gcvH1", "k": "p"},
      {"s": "gly", "t": "gcvP1", "k": "p"},
      {"s": "glx", "t": "gcvT2", "k": "p"},
      {"s": "glx", "t": "gcvP2", "k": "p"},
      {"s": "glx", "t": "gcvH1", "k": "p"},
      {"s": "glx", "t": "glyA2", "k": "p"},
      {"s": "one", "t": "gcvT2", "k": "p"},
      {"s": "one", "t": "glyA2", "k": "p"},
      {"s": "car", "t": "gcvT2", "k": "p"},
      {"s": "car", "t": "gcvP2", "k": "p"},
      {"s": "car", "t": "gcvH1", "k": "p"},
      {"s": "car", "t": "gcvP1", "k": "p"},
      {"s": "car", "t": "glyA2", "k": "p"},
      {"s": "bio", "t": "gcvT2", "k": "p"},
      {"s": "bio", "t": "gcvP2", "k": "p"},
      {"s": "bio", "t": "gcvH1", "k": "p"},
      {"s": "bio", "t": "ansB", "k": "p"},
      {"s": "bio", "t": "plsX", "k": "p"},
      {"s": "bio", "t": "pqsB", "k": "p"},
      {"s": "bio", "t": "PA3415", "k": "p"},
      {"s": "bio", "t": "phzB2", "k": "p"},
      {"s": "bio", "t": "bkdA2", "k": "p"},
      {"s": "bio", "t": "ldh", "k": "p"},
      {"s": "bio", "t": "PA2553", "k": "p"},
      {"s": "phz", "t": "phzB2", "k": "p"},
      {"s": "phz", "t": "PA3415", "k": "p"},
      {"s": "vld", "t": "ldh", "k": "p"},
      {"s": "vld", "t": "pqsB", "k": "p"},
      {"s": "vld", "t": "PA3415", "k": "p"},
      {"s": "vld", "t": "bkdA2", "k": "p"},
      {"s": "vld", "t": "PA2553", "k": "p"},
      {"s": "vlb", "t": "leuD", "k": "p"},
      {"s": "vlb", "t": "ldh", "k": "p"},
      {"s": "bfm", "t": "pqsB", "k": "p"},
      {"s": "bfm", "t": "PA2367", "k": "p"},
      {"s": "bfm", "t": "PA2363", "k": "p"},
      {"s": "bfm", "t": "flgM", "k": "p"},
      {"s": "bfm", "t": "PA3347", "k": "p"},
      {"s": "adhC", "t": "PA3628", "k": "d"},
      {"s": "PA1662", "t": "PA1668", "k": "d"},
      {"s": "PA1662", "t": "hcpC", "k": "d"},
      {"s": "PA1668", "t": "hcpC", "k": "d"},
      {"s": "hom", "t": "holA", "k": "p"},
      {"s": "holA", "t": "mis", "k": "p"},
      {"s": "holA", "t": "dna", "k": "p"},
      {"s": "gll", "t": "PA1052", "k": "p"},
      {"s": "PA1052", "t": "mic", "k": "p"},
      {"s": "PA0510", "t": "mic", "k": "p"},
      {"s": "mic", "t": "adhC", "k": "p"},
      {"s": "mic", "t": "PA3628", "k": "p"},
      {"s": "adhC", "t": "chl", "k": "p"},
      {"s": "adhC", "t": "nap", "k": "p"},
      {"s": "adhC", "t": "met", "k": "p"},
      {"s": "PA3628", "t": "met", "k": "p"},
      {"s": "PA1662", "t": "bss", "k": "p"},
      {"s": "PA1668", "t": "bss", "k": "p"},
      {"s": "hcpC", "t": "bss", "k": "p"},
      {"s": "bss", "t": "tatC", "k": "p"},
      {"s": "pex", "t": "tatC", "k": "p"}
    ],
    "caption": [
      {"line": 1, "lang": "zh", "t": "A. XisF4显著改变宿主细菌PAO1蛋白表达谱；B. 差异表达蛋白的数目（红色表示上调；绿色表示下调）；"},
      {"line": 2, "lang": "zh", "t": "C. 由差异表达蛋白分析形成的火山图（红色表示上调；绿色表示下调）；D. 显著上调的蛋白质经通路富集"},
      {"line": 3, "lang": "zh", "t": "后的相互作用网络；E. 显著下调的蛋白质经通路富集后的相互作用网络。"},
      {"line": 4, "lang": "en", "t": "A. XisF4 significantly alters the protein expression profile of the host bacterium PAO1; B. Number of differentially"},
      {"line": 5, "lang": "en", "t": "expressed proteins (red indicates upregulation; green indicates downregulation); C. Volcano plot generated from the"},
      {"line": 6, "lang": "en", "t": "analysis of differentially expressed proteins (red indicates upregulation; green indicates downregulation); D. Interaction"},
      {"line": 7, "lang": "en", "t": "network of significantly upregulated proteins after pathway enrichment; E. Interaction network of significantly"},
      {"line": 8, "lang": "en", "t": "downregulated proteins after pathway enrichment."}
    ]
  }
}
